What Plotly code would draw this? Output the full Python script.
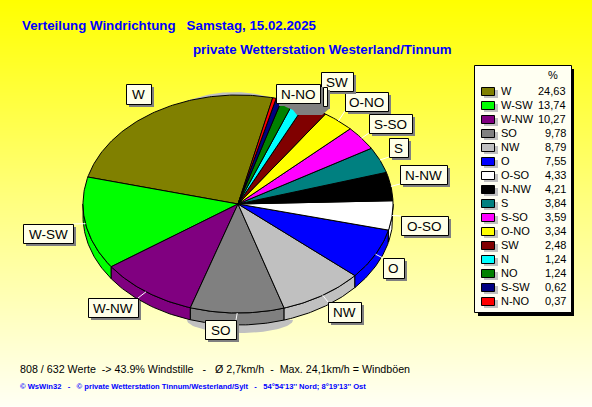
import numpy as np
import plotly.graph_objects as go

W, H = 592, 407
labels = ["W", "W-SW", "W-NW", "SO", "NW", "O", "O-SO", "N-NW", "S", "S-SO", "O-NO", "SW", "N", "NO", "S-SW", "N-NO"]
values = [24.63, 13.74, 10.27, 9.78, 8.79, 7.55, 4.33, 4.21, 3.84, 3.59, 3.34, 2.48, 1.24, 1.24, 0.62, 0.37]
value_text = ["24,63", "13,74", "10,27", "9,78", "8,79", "7,55", "4,33", "4,21", "3,84", "3,59", "3,34", "2,48", "1,24", "1,24", "0,62", "0,37"]
colors = ["#808000", "#00ff00", "#800080", "#808080", "#c0c0c0", "#0000ff", "#ffffff", "#000000", "#008080", "#ff00ff", "#ffff00", "#800000", "#00ffff", "#008000", "#000080", "#ff0000"]
# callout boxes: x-left, y-top, width, height of box in the picture
boxes = {
    "W": (126, 84, 25, 20), "W-SW": (23, 224, 50, 19), "W-NW": (88, 298, 50, 19), "SO": (205, 320, 31, 19),
    "NW": (328, 302, 33, 20), "O": (383, 258, 21, 20), "O-SO": (401, 216, 47, 19), "N-NW": (400, 165, 47, 19),
    "S": (389, 138, 19, 19), "S-SO": (369, 114, 43, 19), "O-NO": (345, 92, 43, 19), "SW": (321, 72, 32, 19),
    "N": (323, 87, 4, 19), "N-NO": (276, 84, 44, 19),
}
title1 = "Verteilung Windrichtung   Samstag, 15.02.2025"
title2 = "private Wetterstation Westerland/Tinnum"
foot1 = "808 / 632 Werte  -> 43.9% Windstille   -   Ø 2,7km/h  -  Max. 24,1km/h = Windböen"
foot2 = "© WsWin32   -   © private Wetterstation Tinnum/Westerland/Sylt   -   54°54'13'' Nord; 8°19'13'' Ost"

CX, CY, RX, RY, DEPTH, START = 238, 204, 155, 109, 12, 77

fig = go.Figure()
# background gradient
fig.add_trace(go.Heatmap(z=[[i, i] for i in range(H)], x=[0, W], y=list(range(H)), showscale=False, hoverinfo="skip",
                         colorscale=[[0, "#ffff00"], [0.5, "#ffff80"], [1, "#fffff4"]]))

def poly(xs, ys, fill, line="#000000", width=1):
    fig.add_trace(go.Scatter(x=xs, y=ys, mode="lines", fill="toself", fillcolor=fill,
                             line=dict(color=line, width=width), hoverinfo="skip", showlegend=False))

def pt(t, dy=0):
    t = np.radians(t)
    return CX + RX * np.cos(t), CY - RY * np.sin(t) + dy

# pie shadow: crescent under the pie and thin rim at the top
s = np.linspace(0, 180, 60)
poly(list(240 + 53 * np.cos(np.radians(s))), list(320 + 13 * np.sin(np.radians(s))), "#c0c0c0", "#c0c0c0", 0)
tt = np.linspace(77, 110, 40)
x_, y_ = pt(tt)
poly(list(x_), list(y_ - 3 * np.sin(np.radians((tt - 77) / 33 * 180))), "#c0c0c0", "#c0c0c0", 0)

# wedges
angle = START
edges = []
for v in values:
    edges.append((angle, angle + v * 3.6))
    angle += v * 3.6
# side wall (lower half only)
for (a, b), c in zip(edges, colors):
    lo, hi = max(a, 180), min(b, 360)
    if lo < hi:
        ts = np.linspace(lo, hi, 40)
        x, y = pt(ts)
        xb, yb = pt(ts[::-1], DEPTH)
        poly(list(x) + list(xb) + [x[0]], list(y) + list(yb) + [y[0]], c)
# top surface
for (a, b), c in zip(edges, colors):
    ts = np.linspace(a, b, max(4, int((b - a) * 1.2)))
    x, y = pt(ts)
    poly([CX] + list(x) + [CX], [CY] + list(y) + [CY], c)

shapes = []
ann = []
def rect(x0, y0, x1, y1, fill, line=None, lw=1):
    off = 0.5 if line else 0
    shapes.append(dict(type="rect", xref="x", yref="y", x0=x0 + off, y0=y0 + off, x1=x1 + off, y1=y1 + off, fillcolor=fill,
                       line=dict(color=line or fill, width=lw if line else 0), layer="above"))
def text(x, y, s, size=12, color="#000000", anchor="left", bold=False, family="Liberation Sans"):
    ann.append(dict(x=x, y=y, xref="x", yref="y", text=f"<b>{s}</b>" if bold else s, showarrow=False, xanchor=anchor,
                    yanchor="middle", borderpad=0, borderwidth=0, font=dict(size=size, color=color, family=family)))

# dark shadow block cast over the small top wedges
shapes.append(dict(type="path", xref="x", yref="y", layer="above", fillcolor="#808080", line=dict(width=0),
                   path="M 279 100 L 279 103 L 286 107 L 293 110 L 297 115 L 322 115 L 330 108 L 330 100 Z"))

# leader lines
for (a, b), lab in zip(edges, labels):
    if lab in ("N", "W", "N-NO", "SW"):
        continue
    if lab not in boxes:
        continue
    x, y = pt((a + b) / 2)
    bx, by, bw, bh = boxes[lab]
    ex, ey = min(max(x, bx), bx + bw), min(max(y, by), by + bh)
    shapes.append(dict(type="line", xref="x", yref="y", x0=x, y0=y, x1=ex, y1=ey, line=dict(color="#ffffff", width=1), layer="above"))

# callouts
for lab in ["W", "N-NW", "S", "S-SO", "O-NO", "SW", "N", "N-NO", "O-SO", "O", "NW", "SO", "W-NW", "W-SW"]:
    bx, by, bw, bh = boxes[lab]
    rect(bx + 3, by + 3, bx + bw + 3, by + bh + 3, "#808080")
    rect(bx, by, bx + bw, by + bh, "#ffffe8", "#000000")
    if lab != "N":
        text(bx + bw / 2, by + bh / 2 + .5, lab, 13.5, anchor="center")

# legend
rect(478, 69, 574, 316, "#000000")
rect(474, 65, 571, 312, "#fffff2", "#000000")
text(553, 75, "%", 11, anchor="center")
for i, (lab, vt, c) in enumerate(zip(labels, value_text, colors)):
    y = 91 + i * 14
    rect(484, y - 1, 498, y + 7, "#c0c0c0")
    rect(481, y - 4, 494, y + 4, c, "#000000")
    text(501, y, lab, 11)
    text(566, y, vt, 11, anchor="right")

text(22, 25, title1, 13.3, "#0000ff", bold=True)
text(193, 49, title2, 13.3, "#0000ff", bold=True)
text(20, 369, foot1, 10.7)
text(20, 386, foot2, 7.6, "#0000ff", bold=True)

fig.update_layout(width=W, height=H, margin=dict(l=0, r=0, t=0, b=0), showlegend=False, shapes=shapes, annotations=ann,
                  paper_bgcolor="#ffffff", plot_bgcolor="#ffffff",
                  xaxis=dict(range=[0, W], visible=False, fixedrange=True),
                  yaxis=dict(range=[H, 0], visible=False, fixedrange=True))
fig.write_html("out.html", config=dict(displayModeBar=False),
               post_script="document.body.style.margin='0';document.body.style.overflow='hidden';")
